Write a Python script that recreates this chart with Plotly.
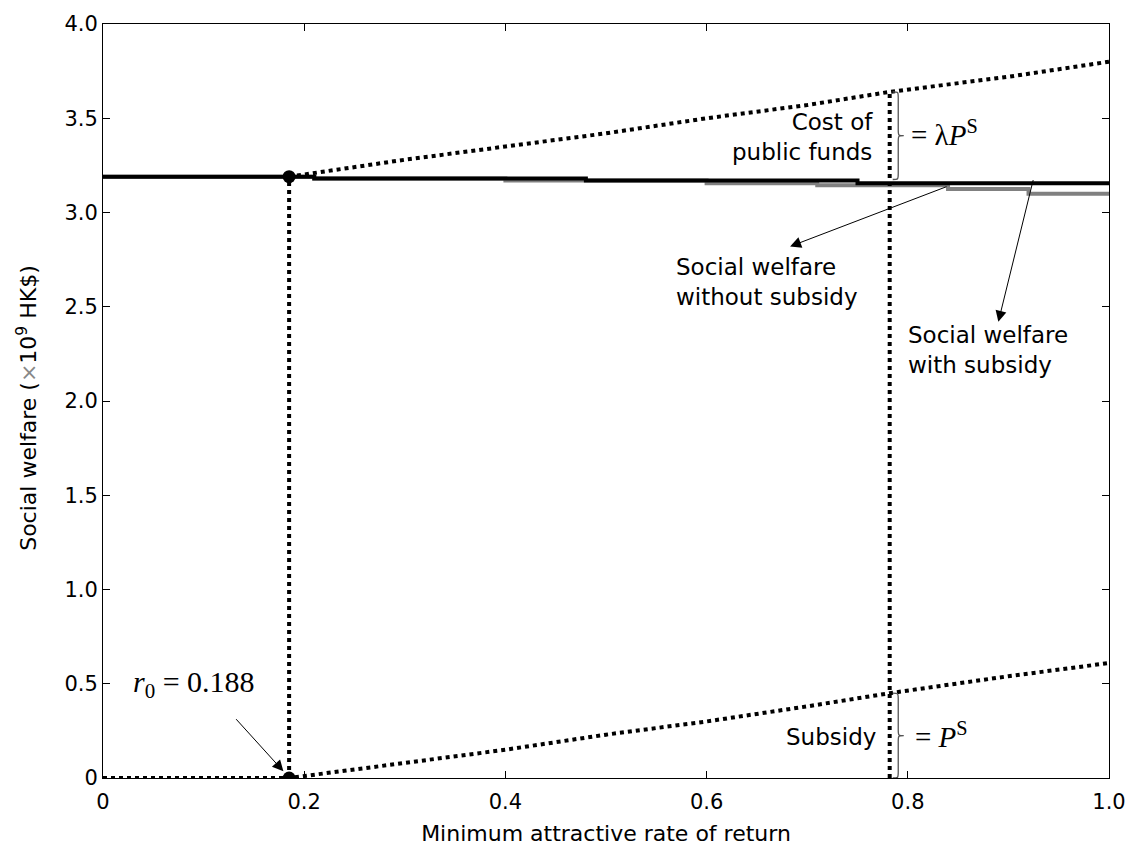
import plotly.graph_objects as go

# ---------------- data ----------------
r0 = 0.185            # position of the threshold point
r0_label = "0.188"
W0 = 3.19             # social welfare at r0

# social welfare with subsidy (black)
r_with = [0.0, 0.21, 0.48, 0.75, 1.0]
w_with = [3.19, 3.18, 3.17, 3.155, 3.155]

# social welfare without subsidy (gray)
r_without = [0.0, 0.21, 0.40, 0.60, 0.71, 0.84, 0.92, 1.0]
w_without = [3.19, 3.18, 3.17, 3.155, 3.145, 3.125, 3.10, 3.10]

# welfare + cost of public funds (upper dotted)
r_cost = [0.185, 0.3, 0.4, 0.5, 0.6, 0.7, 0.782, 0.9, 1.0]
w_cost = [3.19, 3.28, 3.35, 3.42, 3.50, 3.57, 3.64, 3.72, 3.80]

# subsidy (lower dotted)
r_sub = [0.0, 0.185, 0.3, 0.4, 0.5, 0.6, 0.7, 0.782, 0.9, 1.0]
subsidy = [0.0, 0.0, 0.08, 0.15, 0.23, 0.30, 0.38, 0.45, 0.54, 0.61]

r_ref = 0.782         # reference vertical line
w_ref_top = 3.64

xticks = [0, 0.2, 0.4, 0.6, 0.8, 1.0]
xticktext = ["0", "0.2", "0.4", "0.6", "0.8", "1.0"]
yticks = [0, 0.5, 1.0, 1.5, 2.0, 2.5, 3.0, 3.5, 4.0]
yticktext = ["0", "0.5", "1.0", "1.5", "2.0", "2.5", "3.0", "3.5", "4.0"]

SANS = "DejaVu Sans"
SERIF = "Liberation Serif"

fig = go.Figure()

dot = dict(color="black", width=4, dash="dot")

fig.add_trace(go.Scatter(x=r_without, y=w_without, mode="lines", line_shape="hv",
                         line=dict(color="#808080", width=4), hoverinfo="skip"))
fig.add_trace(go.Scatter(x=r_with, y=w_with, mode="lines", line_shape="hv",
                         line=dict(color="black", width=4), hoverinfo="skip"))
fig.add_trace(go.Scatter(x=r_cost, y=w_cost, mode="lines", line=dot, hoverinfo="skip"))
fig.add_trace(go.Scatter(x=r_sub, y=subsidy, mode="lines", line=dot, hoverinfo="skip"))
fig.add_trace(go.Scatter(x=[r0, r0], y=[0, W0], mode="lines", line=dot, hoverinfo="skip"))
fig.add_trace(go.Scatter(x=[r_ref, r_ref], y=[0, w_ref_top], mode="lines", line=dot, hoverinfo="skip"))
fig.add_trace(go.Scatter(x=[r0, r0], y=[W0, 0], mode="markers",
                         marker=dict(color="black", size=13), hoverinfo="skip"))


def brace(x0, yt, yb, w=0.011, d=0.03):
    ym = (yt + yb) / 2
    xm = x0 + w / 2
    xt = x0 + w
    return (f"M {x0},{yt} C {xm},{yt} {xm},{yt} {xm},{yt-d} "
            f"L {xm},{ym+d} C {xm},{ym} {xm},{ym} {xt},{ym} "
            f"C {xm},{ym} {xm},{ym} {xm},{ym-d} "
            f"L {xm},{yb+d} C {xm},{yb} {xm},{yb} {x0},{yb}")


fig.add_shape(type="path", path=brace(r_ref + 0.003, w_ref_top, 3.175),
              line=dict(color="#555555", width=1.3), xref="x", yref="y")
fig.add_shape(type="path", path=brace(r_ref + 0.003, subsidy[7], 0.0),
              line=dict(color="#555555", width=1.3), xref="x", yref="y")

ann = []
ann.append(dict(x=0.767, y=3.40, xref="x", yref="y", text="Cost of<br>public funds",
                showarrow=False, xanchor="right", yanchor="middle", align="right",
                font=dict(family=SANS, size=23, color="black")))
ann.append(dict(x=0.801, y=3.42, xref="x", yref="y",
                text="= λ<i>P</i><sup>S</sup>",
                showarrow=False, xanchor="left", yanchor="middle",
                font=dict(family=SERIF, size=29, color="black")))
ann.append(dict(x=0.770, y=0.22, xref="x", yref="y", text="Subsidy",
                showarrow=False, xanchor="right", yanchor="middle",
                font=dict(family=SANS, size=23, color="black")))
ann.append(dict(x=0.805, y=0.23, xref="x", yref="y",
                text="= <i>P</i><sup>S</sup>",
                showarrow=False, xanchor="left", yanchor="middle",
                font=dict(family=SERIF, size=29, color="black")))
ann.append(dict(x=0.568, y=2.63, xref="x", yref="y",
                text="Social welfare<br>without subsidy",
                showarrow=False, xanchor="left", yanchor="middle", align="left",
                font=dict(family=SANS, size=23, color="black")))
ann.append(dict(x=0.798, y=2.27, xref="x", yref="y",
                text="Social welfare<br>with subsidy",
                showarrow=False, xanchor="left", yanchor="middle", align="left",
                font=dict(family=SANS, size=23, color="black")))
ann.append(dict(x=0.028, y=0.50, xref="x", yref="y",
                text=f"<i>r</i><sub>0</sub> = {r0_label}",
                showarrow=False, xanchor="left", yanchor="middle",
                font=dict(family=SERIF, size=30, color="black")))
# y-axis title placed as rotated annotation
ann.append(dict(x=-0.0755, y=0.491, xref="paper", yref="paper",
                text="Social welfare (<span style='color:#888888'>×</span>10<sup>9</sup> HK$)",
                textangle=-90, showarrow=False, xanchor="center", yanchor="middle",
                font=dict(family=SANS, size=22, color="black")))
# arrows
ann.append(dict(x=0.683, y=2.82, ax=0.840, ay=3.14, xref="x", yref="y",
                axref="x", ayref="y", text="", showarrow=True, arrowhead=2,
                arrowsize=2.2, arrowwidth=1, arrowcolor="black"))
ann.append(dict(x=0.890, y=2.42, ax=0.925, ay=3.18, xref="x", yref="y",
                axref="x", ayref="y", text="", showarrow=True, arrowhead=2,
                arrowsize=2.2, arrowwidth=1, arrowcolor="black"))
ann.append(dict(x=r0 - 0.003, y=0.02, ax=0.131, ay=0.32, xref="x", yref="y",
                axref="x", ayref="y", text="", showarrow=True, arrowhead=2,
                arrowsize=2.2, arrowwidth=1, arrowcolor="black", standoff=4))

fig.update_layout(
    width=1142, height=854,
    margin=dict(l=103, r=33, t=17, b=75),
    paper_bgcolor="white", plot_bgcolor="white",
    showlegend=False,
    annotations=ann,
    xaxis=dict(range=[0, 1.0], tickvals=xticks, ticktext=xticktext,
               showline=True, linecolor="black", linewidth=1, mirror="ticks",
               ticks="inside", ticklen=7, tickcolor="black", showgrid=False,
               zeroline=False, tickfont=dict(family=SANS, size=21, color="black"),
               ticklabelstandoff=5,
               title=dict(text="Minimum attractive rate of return",
                          font=dict(family=SANS, size=22, color="black"), standoff=12)),
    yaxis=dict(range=[0, 4.0], tickvals=yticks, ticktext=yticktext,
               showline=True, linecolor="black", linewidth=1, mirror="ticks",
               ticks="inside", ticklen=7, tickcolor="black", showgrid=False,
               zeroline=False, tickfont=dict(family=SANS, size=21, color="black")),
)

fig.write_html("out.html")
